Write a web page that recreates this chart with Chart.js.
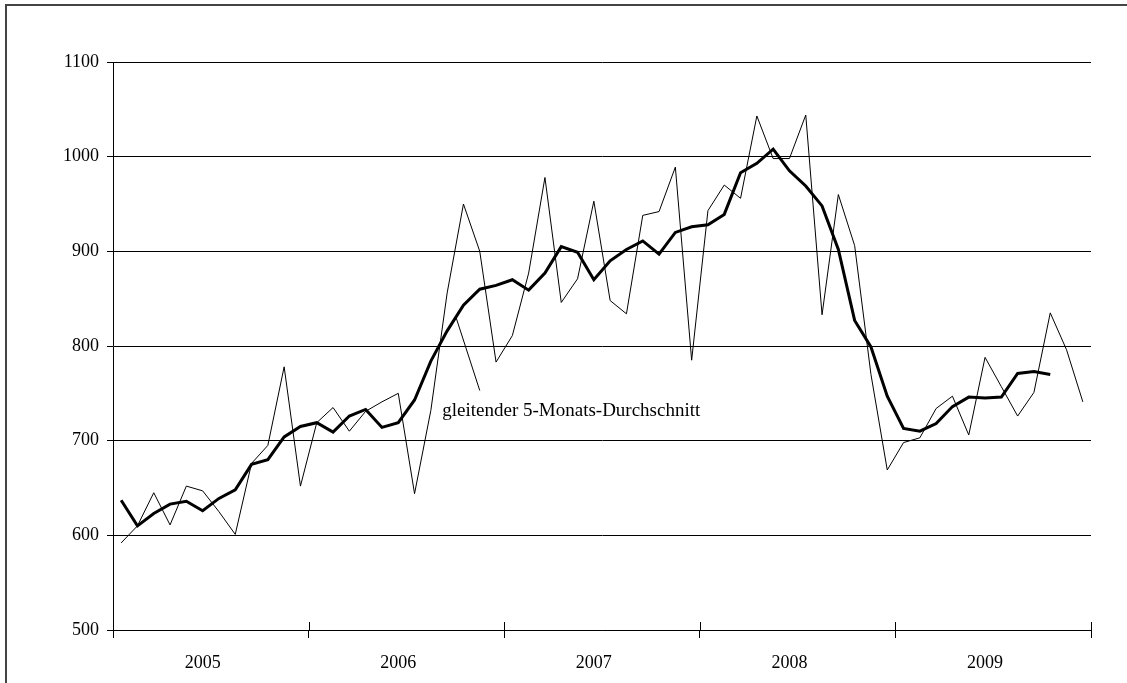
<!DOCTYPE html>
<html>
<head>
<meta charset="utf-8">
<script src="https://cdn.jsdelivr.net/npm/chart.js@4/dist/chart.umd.min.js"></script>
<style>
  html, body { margin: 0; padding: 0; background: #fff; overflow: hidden; }
  #frame { position: absolute; left: 5px; top: 4px; width: 1300px; height: 900px; border: 2px solid #444; }
  #chart { position: absolute; left: 0; top: 0; display: block; }
</style>
</head>
<body>
<div id="frame"></div>
<canvas id="chart" width="1127" height="683"></canvas>
<script>
// Jahre und Monate (5 Jahre x 12 Monate)
const years = ['2005', '2006', '2007', '2008', '2009'];
const monthsPerYear = 12;

// Monatswerte (dünne Linie)
const monthly = [
  592, 610, 645, 611, 652, 647, 625, 601, 676, 695, 778, 652,
  719, 735, 710, 731, 741, 750, 644, 732, 856, 950, 900, 783,
  811, 877, 978, 846, 871, 953, 848, 834, 938, 942, 989, 785,
  943, 970, 956, 1043, 998, 998, 1044, 833, 960, 906, 770, 669,
  698, 703, 734, 747, 706, 788, 757, 726, 751, 835, 796, 741
];

// gleitender 5-Monats-Durchschnitt (dicke Linie)
const movingAvg = [
  637, 610, 623, 633, 636, 626, 639, 648, 675, 680, 704, 715,
  719, 709, 726, 733, 714, 719, 743, 784, 816, 843, 860, 864,
  870, 859, 877, 905, 899, 870, 890, 902, 911, 897, 920, 926,
  928, 939, 983, 993, 1008, 985, 969, 948, 902, 827, 799, 747,
  713, 710, 718, 736, 746, 745, 746, 771, 773, 770, null, null
];

// Beschriftung mit Hinweislinie (Index, Wert)
const labelText = 'gleitender 5-Monats-Durchschnitt';
const labelAt = [19.7, 731];
const leaderFrom = [20.55, 830];
const leaderTo = [22, 753];

const categories = [];
years.forEach(y => {
  for (let m = 1; m <= monthsPerYear; m++) categories.push(y + '-' + m);
});

const serif = '"Liberation Serif", "Times New Roman", serif';

const annotate = {
  id: 'annotate',
  afterDatasetsDraw(chart) {
    const { ctx, scales: { x, y } } = chart;
    ctx.save();
    ctx.strokeStyle = '#000';
    ctx.lineWidth = 1;
    ctx.beginPath();
    ctx.moveTo(x.getPixelForValue(leaderFrom[0]), y.getPixelForValue(leaderFrom[1]));
    ctx.lineTo(x.getPixelForValue(leaderTo[0]), y.getPixelForValue(leaderTo[1]));
    ctx.stroke();

    ctx.font = '19px ' + serif;
    ctx.fillStyle = '#000';
    ctx.textBaseline = 'middle';
    ctx.fillText(labelText, x.getPixelForValue(labelAt[0]), y.getPixelForValue(labelAt[1]));

    // Jahresstriche ragen auch über die Achse
    const base = y.getPixelForValue(500);
    ctx.beginPath();
    for (let k = 0; k <= years.length; k++) {
      const px = Math.round(x.getPixelForValue(k * monthsPerYear - 0.5)) + 0.5;
      ctx.moveTo(px, base - 8);
      ctx.lineTo(px, base);
    }
    ctx.stroke();
    ctx.restore();
  }
};

new Chart(document.getElementById('chart'), {
  type: 'line',
  data: {
    labels: categories,
    datasets: [
      {
        label: 'Monatswerte',
        data: monthly,
        borderColor: '#000',
        borderWidth: 1,
        pointRadius: 0,
        tension: 0,
        fill: false
      },
      {
        label: labelText,
        data: movingAvg,
        borderColor: '#000',
        borderWidth: 3,
        pointRadius: 0,
        tension: 0,
        fill: false,
        spanGaps: false
      }
    ]
  },
  options: {
    responsive: false,
    animation: false,
    devicePixelRatio: 1,
    layout: { padding: { left: 62, right: 36, top: 62, bottom: 0 } },
    plugins: {
      legend: { display: false },
      tooltip: { enabled: false }
    },
    scales: {
      x: {
        offset: true,
        afterFit: s => { s.height = 53; },
        grid: {
          offset: true,
          drawOnChartArea: false,
          tickLength: 8,
          color: c => (c.index === undefined || c.index % monthsPerYear === 0) ? '#000' : 'rgba(0,0,0,0)'
        },
        border: { color: '#000', width: 1 },
        ticks: {
          autoSkip: false,
          maxRotation: 0,
          padding: 14,
          color: '#000',
          font: { family: serif, size: 18 },
          callback: (v, i) => (i % monthsPerYear === 5) ? years[Math.floor(i / monthsPerYear)] : ''
        }
      },
      y: {
        min: 500,
        max: 1100,
        afterFit: s => { s.width = 51; },
        grid: { color: '#000', tickLength: 6, lineWidth: 1 },
        border: { color: '#000', width: 1 },
        ticks: {
          stepSize: 100,
          padding: 8,
          color: '#000',
          font: { family: serif, size: 18 },
          callback: v => String(v)
        }
      }
    }
  },
  plugins: [annotate]
});
</script>
</body>
</html>
